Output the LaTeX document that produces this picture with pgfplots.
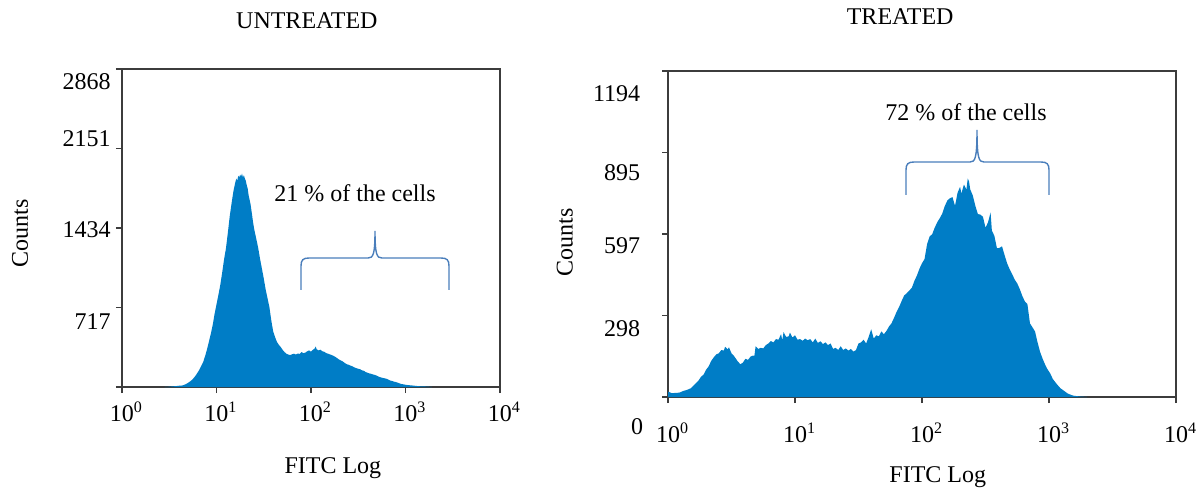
\documentclass[border=0pt]{standalone}
\usepackage{fontspec}
\setmainfont{Liberation Serif}
\usepackage{pgfplots}
\usepackage{pgfplotstable}
\pgfplotsset{compat=1.18}
\definecolor{histblue}{RGB}{0,125,198}
\definecolor{braceblue}{RGB}{74,126,187}
\definecolor{axisgray}{RGB}{60,60,60}

% x = log10(FITC), y = counts
\pgfplotstableread{
x y
0.45 0
0.49 2
0.53 5
0.57 8
0.61 12
0.64 14
0.66 20
0.68 28
0.70 38
0.72 50
0.74 64
0.76 82
0.78 104
0.80 130
0.82 158
0.84 192
0.86 228
0.88 280
0.90 340
0.92 410
0.94 480
0.96 560
0.98 660
1.00 745
1.02 830
1.04 920
1.06 1030
1.08 1150
1.10 1250
1.12 1390
1.14 1540
1.16 1660
1.18 1770
1.20 1850
1.21 1880
1.22 1860
1.23 1905
1.24 1890
1.25 1915
1.26 1900
1.27 1925
1.28 1890
1.29 1910
1.30 1880
1.31 1860
1.32 1820
1.33 1790
1.34 1730
1.35 1690
1.36 1650
1.37 1590
1.38 1530
1.39 1470
1.40 1420
1.42 1340
1.44 1260
1.46 1160
1.48 1070
1.50 980
1.52 880
1.54 800
1.56 720
1.58 600
1.60 500
1.62 450
1.64 405
1.66 380
1.68 360
1.70 335
1.72 315
1.74 300
1.76 292
1.78 288
1.80 295
1.82 300
1.84 293
1.86 302
1.88 298
1.90 315
1.92 305
1.94 310
1.96 322
1.98 330
2.00 318
2.02 335
2.04 348
2.05 365
2.06 340
2.08 330
2.10 336
2.12 322
2.14 318
2.16 306
2.18 300
2.20 294
2.22 288
2.24 280
2.26 270
2.28 258
2.30 246
2.32 238
2.34 228
2.36 215
2.38 205
2.40 200
2.42 192
2.44 186
2.46 176
2.48 170
2.50 164
2.52 160
2.54 150
2.56 146
2.58 134
2.60 128
2.62 122
2.64 118
2.66 112
2.68 108
2.70 100
2.72 92
2.74 86
2.76 82
2.78 78
2.80 74
2.82 66
2.84 58
2.86 54
2.88 48
2.90 44
2.92 38
2.94 32
2.96 26
2.98 24
3.00 20
3.04 16
3.08 13
3.12 9
3.16 6
3.20 5
3.24 3
3.28 0
}\untreated

\pgfplotstableread{
x y
0.00 20
0.03 14
0.06 15
0.09 16
0.12 22
0.15 26
0.18 32
0.21 46
0.24 60
0.26 74
0.28 82
0.30 100
0.32 112
0.34 132
0.36 145
0.38 156
0.40 160
0.42 172
0.44 170
0.45 184
0.47 175
0.48 182
0.50 160
0.52 150
0.55 130
0.57 120
0.59 126
0.61 140
0.63 136
0.65 148
0.67 152
0.68 150
0.69 186
0.71 176
0.73 180
0.75 178
0.77 190
0.79 196
0.81 205
0.83 200
0.85 212
0.87 210
0.89 230
0.90 208
0.91 238
0.93 220
0.95 222
0.96 236
0.98 218
1.00 226
1.02 210
1.04 212
1.06 206
1.08 214
1.10 208
1.12 212
1.14 200
1.16 214
1.18 198
1.20 204
1.22 194
1.24 200
1.26 190
1.28 196
1.30 176
1.32 180
1.34 172
1.36 186
1.38 172
1.40 178
1.42 170
1.44 176
1.46 166
1.48 172
1.50 196
1.52 200
1.54 210
1.56 196
1.58 220
1.60 248
1.62 214
1.64 226
1.66 222
1.68 240
1.70 230
1.72 242
1.74 258
1.76 270
1.78 290
1.80 312
1.82 330
1.84 352
1.86 372
1.88 380
1.90 390
1.92 400
1.94 425
1.96 445
1.98 470
2.00 490
2.02 505
2.04 560
2.06 588
2.08 596
2.10 620
2.12 640
2.14 655
2.16 672
2.18 700
2.20 720
2.22 728
2.24 732
2.26 700
2.28 748
2.30 770
2.31 745
2.33 778
2.35 760
2.36 800
2.37 790
2.38 760
2.40 738
2.42 700
2.44 670
2.46 668
2.48 660
2.50 620
2.52 640
2.54 676
2.55 610
2.57 590
2.59 545
2.61 546
2.63 552
2.65 520
2.67 490
2.69 468
2.71 450
2.73 430
2.75 416
2.77 395
2.79 370
2.81 350
2.83 340
2.85 270
2.87 255
2.89 240
2.91 200
2.93 165
2.95 140
2.97 118
2.99 100
3.01 86
3.03 66
3.06 48
3.09 32
3.12 22
3.15 12
3.19 5
3.24 2
3.30 0
}\treated

\pgfplotsset{
  histax/.style={
    scale only axis,
    anchor=south west,
    xmin=0, xmax=4, ymin=0,
    axis line style={axisgray, line width=0.9pt},
    tick style={axisgray, line width=0.8pt},
    tick pos=left, tick align=outside,
    major tick length=3pt,
    xtick={0,1,2,3,4},
    xticklabels={10\rlap{\textsuperscript{0}},10\rlap{\textsuperscript{1}},10\rlap{\textsuperscript{2}},10\rlap{\textsuperscript{3}},10\rlap{\textsuperscript{4}}},
    yticklabels={},
    extra y tick style={tick style={draw=none}},
    /pgf/number format/assume math mode=true,
    xlabel={FITC Log},
    ylabel={Counts},
    clip=false,
  }
}

\begin{document}
\fontsize{12}{14}\selectfont
\begin{tikzpicture}
\useasboundingbox (0,0) rectangle (600pt,246.5pt);

% ---------------- UNTREATED ----------------
\begin{axis}[histax,
  at={(61pt,53pt)}, width=189pt, height=159pt,
  ymax=2868,
  ytick={0,717,1434,2151,2868},
  extra y ticks={2754,2239,1418,587},
  extra y tick labels={2868,2151,1434,717},
  yticklabel style={xshift=1.5pt},
  xticklabel style={anchor=center, yshift=-9.5pt},
  title={UNTREATED},
  title style={at={(axis description cs:0.489,1.154)}, anchor=center, yshift=-6.5pt},
  xlabel style={at={(axis description cs:0.558,-0.255)}, anchor=center},
  ylabel style={at={(axis description cs:-0.27,0.484)}, anchor=center},
]
\addplot[fill=histblue, draw=none] table[x=x,y=y]{\untreated} \closedcycle;
\end{axis}

% ---------------- TREATED ----------------
\begin{axis}[histax,
  at={(334pt,48pt)}, width=254pt, height=163pt,
  ymax=1194,
  ytick={0,298,597,895,1194},
  extra y ticks={1111,823,556,252},
  extra y tick labels={1194,895,597,298},
  yticklabel style={xshift=-6.7pt},
  xticklabel style={anchor=center, yshift=-15pt},
  title={TREATED},
  title style={at={(axis description cs:0.457,1.169)}, anchor=center, yshift=-6.5pt},
  xlabel style={at={(axis description cs:0.531,-0.245)}, anchor=center},
  ylabel style={at={(axis description cs:-0.203,0.475)}, anchor=center},
]
\addplot[fill=histblue, draw=none] table[x=x,y=y]{\treated} \closedcycle;
\end{axis}

% stray zero label of the treated panel
\node at (318.5pt,33pt) {0};

% annotations
\node at (177.5pt,150pt) {21 \% of the cells};
\node at (483pt,190.5pt) {72 \% of the cells};

\draw[braceblue, line width=0.7pt]
  (150.5pt,101.5pt) -- (150.5pt,113.5pt)
  .. controls (150.5pt,116.5pt) and (151.5pt,117.5pt) .. (154.5pt,117.5pt)
  -- (184pt,117.5pt)
  .. controls (186.5pt,117.5pt) and (187.5pt,119pt) .. (187.5pt,131pt)
  .. controls (187.5pt,119pt) and (188.5pt,117.5pt) .. (191pt,117.5pt)
  -- (220.5pt,117.5pt)
  .. controls (223.5pt,117.5pt) and (224.5pt,116.5pt) .. (224.5pt,113.5pt)
  -- (224.5pt,101.5pt);

\draw[braceblue, line width=0.7pt]
  (453pt,149pt) -- (453pt,161.5pt)
  .. controls (453pt,164.5pt) and (454pt,165.5pt) .. (457pt,165.5pt)
  -- (485pt,165.5pt)
  .. controls (487.5pt,165.5pt) and (488.5pt,167pt) .. (488.5pt,181.5pt)
  .. controls (488.5pt,167pt) and (489.5pt,165.5pt) .. (492pt,165.5pt)
  -- (520.5pt,165.5pt)
  .. controls (523.5pt,165.5pt) and (524.5pt,164.5pt) .. (524.5pt,161.5pt)
  -- (524.5pt,149pt);
\end{tikzpicture}
\end{document}
